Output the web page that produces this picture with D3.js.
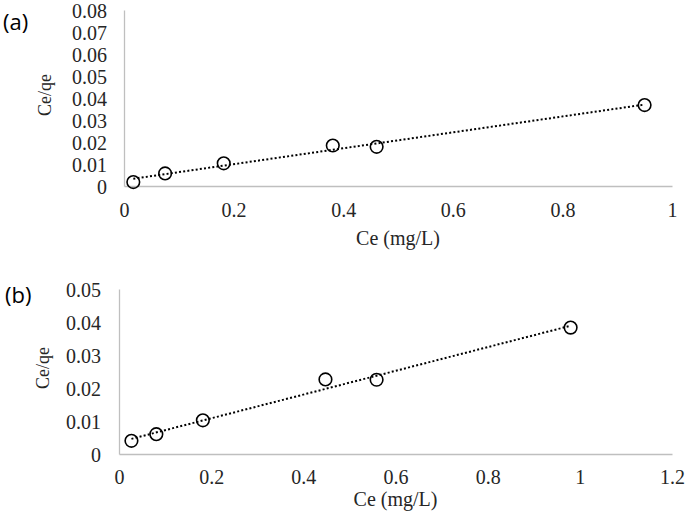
<!DOCTYPE html>
<html>
<head>
<meta charset="utf-8">
<script src="https://cdn.jsdelivr.net/npm/d3@7/dist/d3.min.js"></script>
<style>
  html, body { margin: 0; padding: 0; background: #fff; }
  svg { display: block; }
</style>
</head>
<body>
<svg id="chart" width="685" height="511"></svg>
<script>
// ---- Data ----
const panelLabels = ["(a)", "(b)"];
const xTitle = "Ce (mg/L)";
const yTitle = "Ce/qe";

const ceA = [0.017, 0.075, 0.182, 0.381, 0.461, 0.950];
const ceqeA = [0.0018, 0.0057, 0.0103, 0.0184, 0.0178, 0.0368];
const xTicksA = [0, 0.2, 0.4, 0.6, 0.8, 1];
const yTicksA = [0, 0.01, 0.02, 0.03, 0.04, 0.05, 0.06, 0.07, 0.08];

const ceB = [0.027, 0.081, 0.182, 0.448, 0.559, 0.980];
const ceqeB = [0.0040, 0.0060, 0.0102, 0.0226, 0.0225, 0.0383];
const xTicksB = [0, 0.2, 0.4, 0.6, 0.8, 1, 1.2];
const yTicksB = [0, 0.01, 0.02, 0.03, 0.04, 0.05];

const svg = d3.select("#chart");
const SERIF = '"Liberation Serif", "Times New Roman", serif';

function fmt(v) { return v === 0 ? "0" : String(+v.toFixed(2)); }

function linfit(xs, ys) {
  const n = xs.length;
  const mx = d3.mean(xs), my = d3.mean(ys);
  let sxy = 0, sxx = 0;
  for (let i = 0; i < n; i++) { sxy += (xs[i]-mx)*(ys[i]-my); sxx += (xs[i]-mx)*(xs[i]-mx); }
  const b = sxy / sxx;
  return { slope: b, intercept: my - b*mx };
}

function panel(cfg) {
  const g = svg.append("g");
  const x = d3.scaleLinear().domain(cfg.xDomain).range([cfg.left, cfg.right]);
  const y = d3.scaleLinear().domain(cfg.yDomain).range([cfg.bottom, cfg.top]);

  const xAxis = d3.axisBottom(x).tickValues(cfg.xTicks).tickSize(0).tickPadding(cfg.xPad).tickFormat(fmt);
  const gx = g.append("g").attr("transform", `translate(0,${cfg.bottom})`).call(xAxis);
  gx.attr("font-family", null).attr("font-size", null);
  gx.select(".domain").attr("stroke", "#bfbfbf").attr("stroke-width", 1.3);
  gx.selectAll("text").style("font-family", SERIF)
    .style("font-size", "20px").attr("fill", "#262626");

  const yAxis = d3.axisLeft(y).tickValues(cfg.yTicks).tickSize(0).tickPadding(cfg.yPad).tickFormat(fmt);
  const gy = g.append("g").attr("transform", `translate(${cfg.left},0)`).call(yAxis);
  gy.attr("font-family", null).attr("font-size", null);
  gy.select(".domain").attr("stroke", "#bfbfbf").attr("stroke-width", 1.3);
  gy.selectAll("text").style("font-family", SERIF)
    .style("font-size", "20px").attr("fill", "#262626").attr("dy", "0.35em");

  // trendline
  const fit = linfit(cfg.xs, cfg.ys);
  const x0 = d3.min(cfg.xs), x1 = d3.max(cfg.xs);
  g.append("line")
    .attr("x1", x(x0)).attr("y1", y(fit.intercept + fit.slope*x0))
    .attr("x2", x(x1)).attr("y2", y(fit.intercept + fit.slope*x1))
    .attr("stroke", "#000").attr("stroke-width", 2)
    .attr("stroke-dasharray", "2,2.2");

  // markers
  g.selectAll("circle.pt").data(cfg.xs.map((v, i) => [v, cfg.ys[i]]))
    .enter().append("circle").attr("class", "pt")
    .attr("cx", d => x(d[0])).attr("cy", d => y(d[1])).attr("r", 6.3)
    .attr("fill", "none").attr("stroke", "#000").attr("stroke-width", 1.6);

  // titles
  g.append("text").attr("x", (cfg.left + cfg.right)/2).attr("y", cfg.xTitleY)
    .attr("text-anchor", "middle").attr("dy", "0.35em")
    .style("font-family", SERIF).style("font-size", "20px")
    .attr("fill", "#262626").text(xTitle);

  g.append("text")
    .attr("transform", `translate(${cfg.yTitleX},${cfg.yTitleY}) rotate(-90)`)
    .attr("text-anchor", "middle").attr("dy", "0.35em")
    .style("font-family", SERIF).style("font-size", "18px")
    .attr("fill", "#262626").text(yTitle);

  g.append("text").attr("x", cfg.labelX).attr("y", cfg.labelY)
    .attr("dy", "0.35em")
    .style("font-family", '"Open Sans", "Liberation Sans", Arial, sans-serif')
    .style("font-size", "22px").attr("fill", "#000").text(cfg.label);
}

panel({
  xs: ceA, ys: ceqeA, xTicks: xTicksA, yTicks: yTicksA,
  xDomain: [0, 1], yDomain: [0, 0.08],
  left: 124, right: 672, top: 10, bottom: 186,
  xPad: 17, yPad: 17, xTitleY: 238, yTitleX: 45, yTitleY: 95,
  label: panelLabels[0], labelX: 3, labelY: 22
});

panel({
  xs: ceB, ys: ceqeB, xTicks: xTicksB, yTicks: yTicksB,
  xDomain: [0, 1.2], yDomain: [0, 0.05],
  left: 119, right: 672, top: 289, bottom: 454,
  xPad: 16, yPad: 18, xTitleY: 499, yTitleX: 43, yTitleY: 368,
  label: panelLabels[1], labelX: 5, labelY: 295
});
</script>
</body>
</html>
